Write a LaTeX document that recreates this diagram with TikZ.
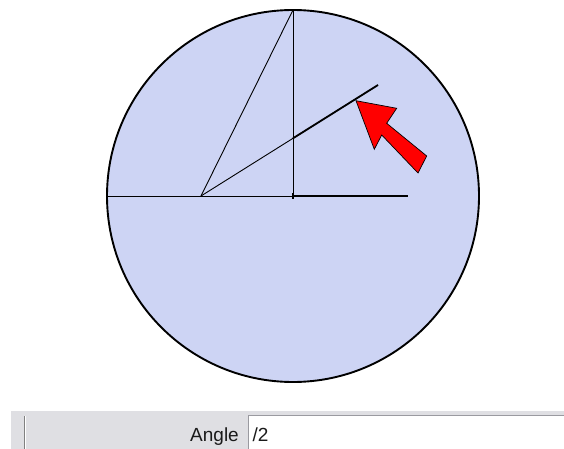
\documentclass[tikz,border=0pt]{standalone}
\usepackage{fontspec}
\setmainfont{Liberation Sans}
\usepackage{xcolor}
\definecolor{cDisc}{HTML}{CDD4F4}
\definecolor{cArrow}{HTML}{FF0000}
\definecolor{cBar}{HTML}{DFDFE3}
\definecolor{cEdge}{HTML}{9A9AA0}
\definecolor{cText}{HTML}{1A1A1A}
\usepackage{tikz}
\usetikzlibrary{positioning,calc}
\tikzset{
  disc/.style={draw=black,line width=1.9pt,fill=cDisc},
  ray-thin/.style={draw=black,line width=0.9pt},
  ray-thick/.style={draw=black,line width=1.8pt},
  pointer/.style={draw=black,line width=0.7pt,fill=cArrow,line join=miter},
  field-box/.style={draw=cEdge,line width=1.4pt,fill=white},
  field-label/.style={font=\fontsize{19}{20}\selectfont,text=cText,inner sep=0pt},
}
\begin{document}
\begin{tikzpicture}[x=1pt,y=-1pt]
  \useasboundingbox (0,0) rectangle (564,449);
  % disc
  \coordinate (O) at (293,196);
  \draw[disc] (O) circle (186);
  \coordinate (L) at (107,196);
  \coordinate (P) at (201,196);
  \coordinate (T) at (293,10);
  \coordinate (E) at (408,196);
  \coordinate (Q) at (378,85);
  \draw[ray-thin] (L) -- (O);
  \draw[ray-thin] (T) -- (O);
  \draw[ray-thin] (P) -- (T);
  \draw[ray-thin] (P) -- (Q);
  \draw[ray-thick] ($(P)!0.52!(Q)$) -- (Q);
  \draw[ray-thick] (O) -- (E);
  \draw[black,line width=1.2pt] ($(O)+(0,-3)$) -- ($(O)+(0,3)$);
  % pointer
  \draw[pointer] (356,100.7) -- (396.7,108.3) -- (386.7,123.3) -- (426.7,156)
    -- (418,173) -- (381.7,135) -- (374.3,149.3) -- cycle;
  % bottom bar
  \fill[cBar] (11,411) rectangle (564,449);
  \draw[gray,line width=1pt] (24,416) -- (24,449);
  \draw[white,line width=0.8pt] (25.6,416) -- (25.6,449);
  \node[field-box,minimum width=330pt,minimum height=38pt,anchor=north west]
    (box) at (248,414.5) {};
  \node[field-label,anchor=base east] (lbl) at (239,441) {Angle};
  \node[field-label,anchor=base west] (val) at (252.5,441) {/2};
\end{tikzpicture}
\end{document}
